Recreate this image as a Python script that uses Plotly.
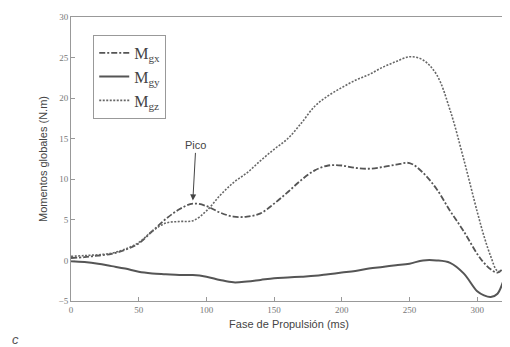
import plotly.graph_objects as go

t_ms = [0, 10, 20, 30, 40, 50, 60, 70, 80, 90, 100, 110, 120, 130, 140, 150, 160, 170, 180, 190,
        200, 210, 220, 230, 240, 250, 260, 270, 280, 290, 300, 305, 310, 315, 320, 325]

m_gx = [0.3, 0.4, 0.6, 0.8, 1.3, 2.1, 3.6, 5.1, 6.3, 7.0, 6.7, 5.9, 5.4, 5.4, 5.8, 7.0, 8.4, 9.9, 11.1, 11.7,
        11.7, 11.4, 11.3, 11.5, 11.8, 12.0, 10.8, 8.8, 6.1, 3.6, 0.8, -0.3, -1.1, -1.5, -0.8, 0.5]

m_gy = [-0.1, -0.2, -0.4, -0.7, -1.0, -1.4, -1.6, -1.7, -1.8, -1.8, -2.0, -2.4, -2.7, -2.6, -2.4, -2.2, -2.1, -2.0, -1.9, -1.7,
        -1.5, -1.3, -1.0, -0.8, -0.6, -0.4, 0.0, 0.0, -0.3, -1.6, -3.8, -4.3, -4.5, -4.1, -2.2, 0.2]

m_gz = [0.5, 0.6, 0.7, 0.9, 1.4, 2.2, 3.6, 4.6, 4.8, 4.9, 6.1, 8.0, 9.6, 10.8, 12.3, 13.7, 15.0, 16.9, 19.0, 20.3,
        21.3, 22.2, 22.9, 23.8, 24.5, 25.1, 24.7, 22.9, 18.5, 12.5, 6.0, 3.0, 0.5, -1.3, -1.2, 0.2]

series_names = ["M<sub>gx</sub>", "M<sub>gy</sub>", "M<sub>gz</sub>"]
y_ticks = [-5, 0, 5, 10, 15, 20, 25, 30]
x_ticks = [0, 50, 100, 150, 200, 250, 300]

fig = go.Figure()
fig.add_trace(go.Scatter(x=t_ms, y=m_gx, mode="lines", name=series_names[0], line_shape="spline",
                         line=dict(color="#555555", width=1.8, dash="6px,2px,2px,2px")))
fig.add_trace(go.Scatter(x=t_ms, y=m_gy, mode="lines", name=series_names[1], line_shape="spline",
                         line=dict(color="#555555", width=2, dash="solid")))
fig.add_trace(go.Scatter(x=t_ms, y=m_gz, mode="lines", name=series_names[2], line_shape="spline",
                         line=dict(color="#666666", width=1.6, dash="2px,1.5px")))

axis_common = dict(showline=True, linecolor="#999999", linewidth=1, mirror=True, ticks="inside",
                   ticklen=4, tickcolor="#999999", showgrid=False, zeroline=False, automargin=False,
                   tickfont=dict(family="Liberation Serif", size=9, color="#777777"))

fig.update_xaxes(range=[0, 322], tickvals=x_ticks,
                 title=dict(text="Fase de Propulsión (ms)", standoff=6,
                            font=dict(family="Liberation Sans", size=11, color="#444444")),
                 **axis_common)
fig.update_yaxes(range=[-5, 30], tickvals=y_ticks,
                 title=dict(text="Momentos globales (N.m)", standoff=8,
                            font=dict(family="Liberation Sans", size=11, color="#444444")),
                 **axis_common)

fig.add_annotation(x=90, y=7.4, xref="x", yref="y", text="Pico", showarrow=True,
                   ax=3, ay=-55, arrowhead=2, arrowsize=1.2, arrowwidth=1, arrowcolor="#444444",
                   font=dict(family="Liberation Sans", size=11, color="#444444"))
fig.add_annotation(x=-0.128, y=-0.137, xref="paper", yref="paper", text="<i>c</i>", showarrow=False,
                   xanchor="center", yanchor="middle",
                   font=dict(family="Liberation Sans", size=13, color="#555555"))

# the page body has an 8px margin, so the figure is sized to the visible window
fig.update_layout(
    width=502, height=339,
    margin=dict(l=63, r=3, t=9, b=46),
    plot_bgcolor="white", paper_bgcolor="white",
    showlegend=True,
    legend=dict(x=0.051, y=0.937, xanchor="left", yanchor="top",
                bgcolor="white", bordercolor="#999999", borderwidth=1,
                font=dict(family="Liberation Serif", size=16, color="#444444")),
)

fig.write_html("out.html")
